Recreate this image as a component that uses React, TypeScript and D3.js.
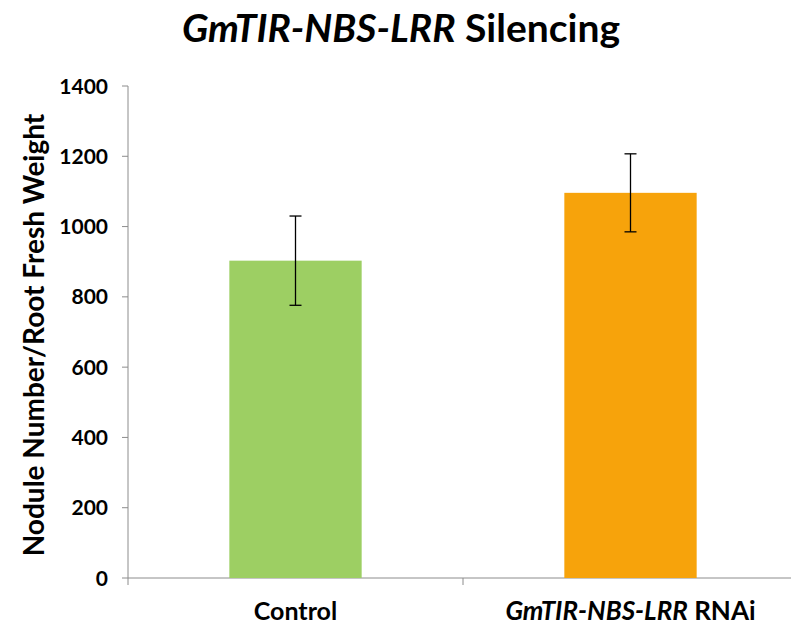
import React from "react";
import * as d3 from "d3";

const categories = ["Control", "GmTIR-NBS-LRR RNAi"];
const means = [903, 1096];
const errors = [127, 111];
const barColors = ["#9DCF63", "#F7A30B"];
const yTicks = [0, 200, 400, 600, 800, 1000, 1200, 1400];

const W = 791;
const H = 628;
const FONT = "Lato, 'Open Sans', sans-serif";

export default function App() {
  const left = 128;
  const top = 86;
  const bottom = 578;
  const right = 798;

  const x = d3.scaleBand<string>().domain(categories).range([left, right]).paddingInner(0).paddingOuter(0);
  const y = d3.scaleLinear().domain([0, 1400]).range([bottom, top]);
  const bw = x.bandwidth() * 0.395;

  return (
    <svg width={W} height={H} style={{ position: "absolute", left: 0, top: 0, background: "#fff" }}>
      <text x={401} y={42} textAnchor="middle" fontFamily={FONT} fontWeight="bold" fontSize={39} fill="#000">
        <tspan fontStyle="italic">GmTIR-NBS-LRR</tspan> Silencing
      </text>

      {/* y axis */}
      <line x1={left} x2={left} y1={top} y2={bottom} stroke="#8c8c8c" strokeWidth={1} />
      {yTicks.map((t) => (
        <g key={t}>
          <line x1={left - 6} x2={left} y1={y(t)} y2={y(t)} stroke="#8c8c8c" />
          <text x={108} y={y(t)} dy="0.36em" textAnchor="end" fontFamily={FONT} fontWeight="bold" fontSize={21} fill="#000">
            {t}
          </text>
        </g>
      ))}

      {/* x axis */}
      <line x1={left} x2={right} y1={bottom} y2={bottom} stroke="#8c8c8c" />
      {[left, left + x.step(), right].map((px, i) => (
        <line key={i} x1={px} x2={px} y1={bottom} y2={bottom + 7} stroke="#8c8c8c" />
      ))}

      {/* bars */}
      {categories.map((c, i) => {
        const cx = (x(c) as number) + x.bandwidth() / 2;
        return (
          <g key={c}>
            <rect x={cx - bw / 2} y={y(means[i])} width={bw} height={bottom - y(means[i])} fill={barColors[i]} />
            <line x1={cx} x2={cx} y1={y(means[i] + errors[i])} y2={y(means[i] - errors[i])} stroke="#000" strokeWidth={1.3} />
            <line x1={cx - 6} x2={cx + 6} y1={y(means[i] + errors[i])} y2={y(means[i] + errors[i])} stroke="#000" strokeWidth={1.3} />
            <line x1={cx - 6} x2={cx + 6} y1={y(means[i] - errors[i])} y2={y(means[i] - errors[i])} stroke="#000" strokeWidth={1.3} />
          </g>
        );
      })}

      {/* category labels */}
      <text x={(x(categories[0]) as number) + x.bandwidth() / 2} y={620} textAnchor="middle" fontFamily={FONT} fontWeight="bold" fontSize={25} fill="#000">
        Control
      </text>
      <text x={(x(categories[1]) as number) + x.bandwidth() / 2} y={620} textAnchor="middle" fontFamily={FONT} fontWeight="bold" fontSize={26} fill="#000">
        <tspan fontStyle="italic">GmTIR-NBS-LRR</tspan> RNAi
      </text>

      {/* y axis title */}
      <text
        transform={`translate(44, 335) rotate(-90)`}
        textAnchor="middle"
        fontFamily={FONT}
        fontWeight="bold"
        fontSize={28}
        fill="#000"
      >
        Nodule Number/Root Fresh Weight
      </text>
    </svg>
  );
}
